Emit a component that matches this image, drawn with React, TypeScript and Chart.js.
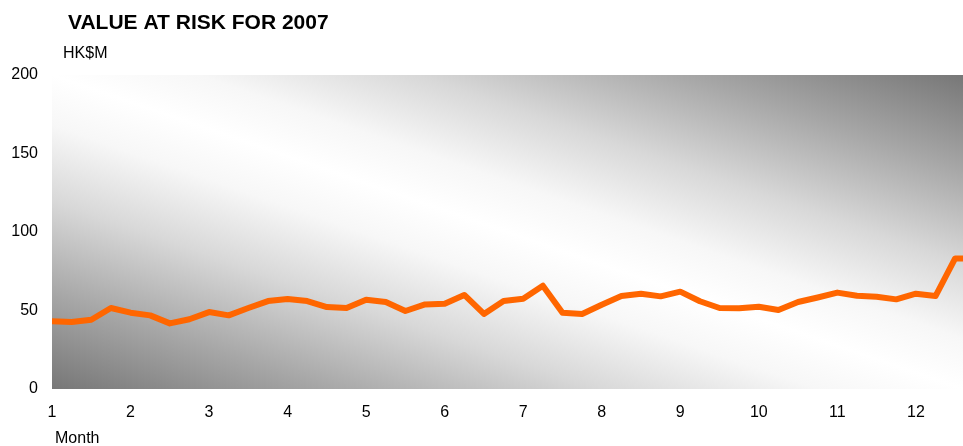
import React, { useEffect, useRef } from "react";
import { Chart, registerables } from "chart.js";

Chart.register(...registerables);

const TITLE = "VALUE AT RISK FOR 2007";
const Y_UNIT = "HK$M";
const X_TITLE = "Month";

// position within the year (month number, weekly steps)
const weekPositions = [
  1, 1.25, 1.5, 1.75, 2, 2.25, 2.5, 2.75, 3, 3.25, 3.5, 3.75,
  4, 4.25, 4.5, 4.75, 5, 5.25, 5.5, 5.75, 6, 6.25, 6.5, 6.75,
  7, 7.25, 7.5, 7.75, 8, 8.25, 8.5, 8.75, 9, 9.25, 9.5, 9.75,
  10, 10.25, 10.5, 10.75, 11, 11.25, 11.5, 11.75, 12, 12.25, 12.5, 12.75,
];

// Value at risk, HK$M
const varValues = [
  43.1, 42.7, 44.1, 51.6, 48.6, 46.9, 41.8, 44.4, 49.0, 46.9, 51.6, 56.0,
  57.3, 56.0, 52.2, 51.6, 56.9, 55.4, 49.7, 53.9, 54.3, 59.9, 47.8, 56.0,
  57.5, 65.8, 48.6, 47.8, 53.7, 59.2, 60.7, 59.0, 62.0, 55.9, 51.6, 51.4,
  52.4, 50.3, 55.4, 58.3, 61.4, 59.4, 58.8, 57.1, 60.7, 59.2, 83.2, 83.2,
];

const FONT = "'Liberation Sans', Arial, Helvetica, sans-serif";

const bgPlugin = {
  id: "plotBg",
  beforeDatasetsDraw(chart: any) {
    const { ctx, chartArea } = chart;
    const { left, top, right, bottom } = chartArea;
    const w = right - left;
    const h = bottom - top;
    const cx = left + w / 2;
    const cy = top + h / 2;
    const k = (w * h) / (w * w + h * h);
    const g = ctx.createLinearGradient(cx - k * h, cy + k * w, cx + k * h, cy - k * w);
    g.addColorStop(0, "#777777");
    g.addColorStop(0.15, "#a6a6a6");
    g.addColorStop(0.3, "#d8d8d8");
    g.addColorStop(0.42, "#f7f7f7");
    g.addColorStop(0.5, "#ffffff");
    g.addColorStop(0.58, "#f7f7f7");
    g.addColorStop(0.7, "#d8d8d8");
    g.addColorStop(0.85, "#a6a6a6");
    g.addColorStop(1, "#777777");
    ctx.save();
    ctx.fillStyle = g;
    ctx.fillRect(left, top, w, h);
    ctx.restore();
  },
};

const textPlugin = {
  id: "texts",
  afterDraw(chart: any) {
    const { ctx } = chart;
    ctx.save();
    ctx.fillStyle = "#000";
    ctx.textBaseline = "middle";
    ctx.textAlign = "left";
    ctx.font = `bold 21px ${FONT}`;
    ctx.fillText(TITLE, 68, 23);
    ctx.font = `16px ${FONT}`;
    ctx.fillText(Y_UNIT, 63, 54);
    ctx.fillText(X_TITLE, 55, 439);
    ctx.restore();
  },
};

export default function App() {
  const ref = useRef<HTMLCanvasElement | null>(null);

  useEffect(() => {
    if (!ref.current) return;
    const chart = new Chart(ref.current, {
      type: "line",
      data: {
        datasets: [
          {
            data: weekPositions.map((x, i) => ({ x, y: varValues[i] })),
            borderColor: "#FF6600",
            backgroundColor: "#FF6600",
            borderWidth: 6,
            pointRadius: 0,
            tension: 0,
            borderJoinStyle: "round",
            clip: 0,
          } as any,
        ],
      },
      options: {
        animation: false,
        responsive: false,
        maintainAspectRatio: false,
        layout: { padding: { top: 75, left: 0, right: 0, bottom: 0 } },
        plugins: {
          legend: { display: false },
          title: { display: false },
          tooltip: { enabled: false },
        },
        scales: {
          x: {
            type: "linear",
            min: 1,
            max: 12.6,
            grid: { display: false, drawTicks: false },
            border: { display: false },
            ticks: {
              stepSize: 1,
              includeBounds: false,
              autoSkip: false,
              maxRotation: 0,
              padding: 14,
              color: "#000",
              font: { family: FONT, size: 16 },
            },
            afterFit(scale: any) {
              scale.height = 57;
            },
          } as any,
          y: {
            min: 0,
            max: 200,
            grid: { display: false, drawTicks: false },
            border: { display: false },
            ticks: {
              stepSize: 50,
              padding: 14,
              color: "#000",
              font: { family: FONT, size: 16 },
            },
            afterFit(scale: any) {
              scale.width = 52;
            },
          } as any,
        },
      },
      plugins: [bgPlugin, textPlugin],
    });
    return () => chart.destroy();
  }, []);

  return (
    <div style={{ position: "fixed", left: 0, top: 0, width: 963, height: 446, background: "#fff" }}>
      <canvas ref={ref} width={963} height={446} style={{ display: "block", width: 963, height: 446 }} />
    </div>
  );
}
